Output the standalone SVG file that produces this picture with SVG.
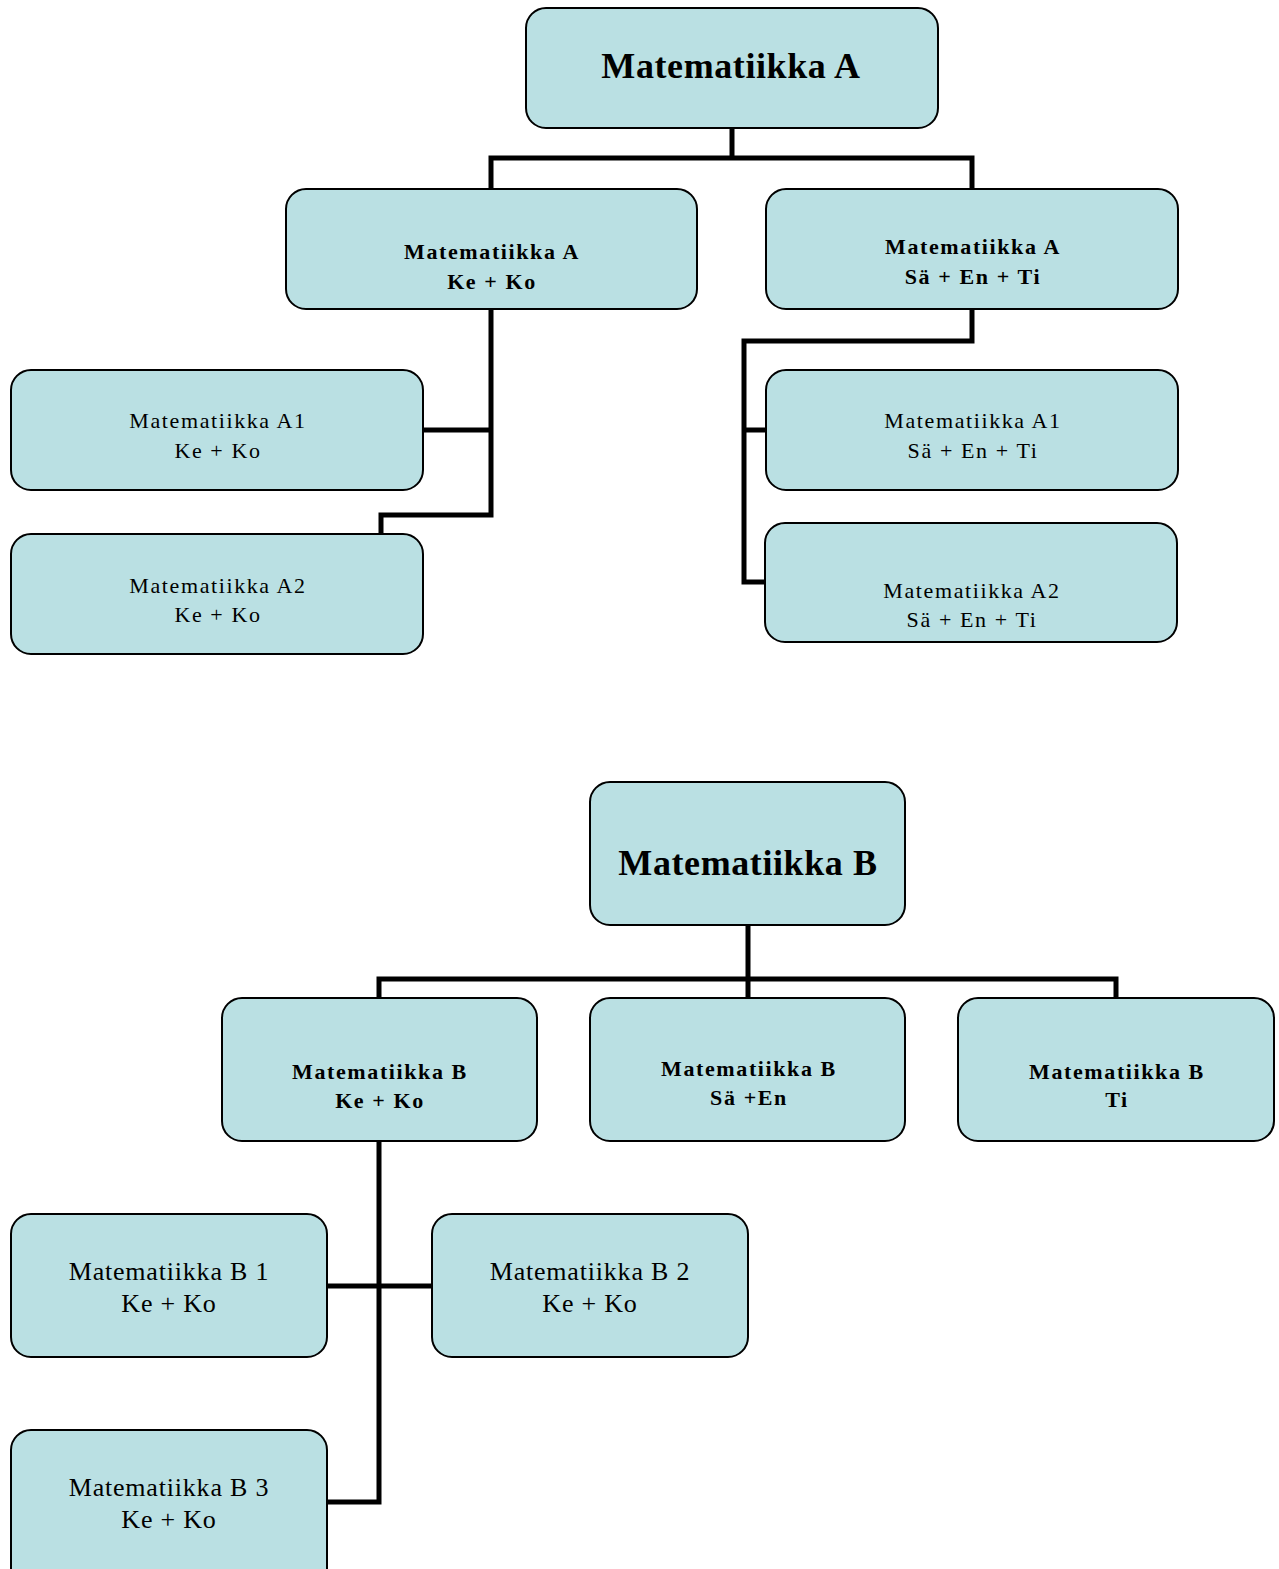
<svg xmlns="http://www.w3.org/2000/svg" width="1279" height="1569" viewBox="0 0 1279 1569">
<style>
.box{fill:#BAE0E3;stroke:#000;stroke-width:2}
.t{font-family:"Liberation Serif","Times New Roman",serif;text-anchor:middle;fill:#000}
.big{font-size:36px;font-weight:bold;letter-spacing:0.6px}
.mb{font-size:22px;font-weight:bold;letter-spacing:1.6px}
.mr{font-size:22px;letter-spacing:1.6px}
.lr{font-size:26px;letter-spacing:0.8px}
.c{fill:none;stroke:#000;stroke-width:5;stroke-linecap:square;stroke-linejoin:miter}
</style>
<rect width="1279" height="1569" fill="#fff"/>
<g id="connectors">
<path class="c" d="M732 130V158M491 189V158H972V189"/>
<path class="c" d="M491 311V515H381V532M425 430H491"/>
<path class="c" d="M972 311V341H744V582H763M744 430H764"/>
<path class="c" d="M748 927V996M379 996V979H1116V996"/>
<path class="c" d="M379 1143V1502H329M329 1286H430"/>
</g>
<g id="nodeA"><rect class="box" x="526" y="8" width="412" height="120" rx="20"/><text class="t big" x="731" y="78">Matematiikka A</text></g>
<g id="nodeA_KeKo"><rect class="box" x="286" y="189" width="411" height="120" rx="20"/><text class="t mb" x="492" y="259">Matematiikka A</text><text class="t mb" x="492" y="289">Ke + Ko</text></g>
<g id="nodeA_SaEnTi"><rect class="box" x="766" y="189" width="412" height="120" rx="20"/><text class="t mb" x="973" y="254">Matematiikka A</text><text class="t mb" x="973" y="284">Sä + En + Ti</text></g>
<g id="nodeA1_KeKo"><rect class="box" x="11" y="370" width="412" height="120" rx="20"/><text class="t mr" x="218" y="428">Matematiikka A1</text><text class="t mr" x="218" y="458">Ke + Ko</text></g>
<g id="nodeA2_KeKo"><rect class="box" x="11" y="534" width="412" height="120" rx="20"/><text class="t mr" x="218" y="593">Matematiikka A2</text><text class="t mr" x="218" y="622">Ke + Ko</text></g>
<g id="nodeA1_SaEnTi"><rect class="box" x="766" y="370" width="412" height="120" rx="20"/><text class="t mr" x="973" y="428">Matematiikka A1</text><text class="t mr" x="973" y="458">Sä + En + Ti</text></g>
<g id="nodeA2_SaEnTi"><rect class="box" x="765" y="523" width="412" height="119" rx="20"/><text class="t mr" x="972" y="598">Matematiikka A2</text><text class="t mr" x="972" y="627">Sä + En + Ti</text></g>
<g id="nodeB"><rect class="box" x="590" y="782" width="315" height="143" rx="20"/><text class="t big" x="748" y="875">Matematiikka B</text></g>
<g id="nodeB_KeKo"><rect class="box" x="222" y="998" width="315" height="143" rx="20"/><text class="t mb" x="380" y="1079">Matematiikka B</text><text class="t mb" x="380" y="1108">Ke + Ko</text></g>
<g id="nodeB_SaEn"><rect class="box" x="590" y="998" width="315" height="143" rx="20"/><text class="t mb" x="749" y="1076">Matematiikka B</text><text class="t mb" x="749" y="1105">Sä +En</text></g>
<g id="nodeB_Ti"><rect class="box" x="958" y="998" width="316" height="143" rx="20"/><text class="t mb" x="1117" y="1079">Matematiikka B</text><text class="t mb" x="1117" y="1107">Ti</text></g>
<g id="nodeB1"><rect class="box" x="11" y="1214" width="316" height="143" rx="20"/><text class="t lr" x="169" y="1280">Matematiikka B 1</text><text class="t lr" x="169" y="1312">Ke + Ko</text></g>
<g id="nodeB2"><rect class="box" x="432" y="1214" width="316" height="143" rx="20"/><text class="t lr" x="590" y="1280">Matematiikka B 2</text><text class="t lr" x="590" y="1312">Ke + Ko</text></g>
<g id="nodeB3"><rect class="box" x="11" y="1430" width="316" height="160" rx="20"/><text class="t lr" x="169" y="1496">Matematiikka B 3</text><text class="t lr" x="169" y="1528">Ke + Ko</text></g>
</svg>
